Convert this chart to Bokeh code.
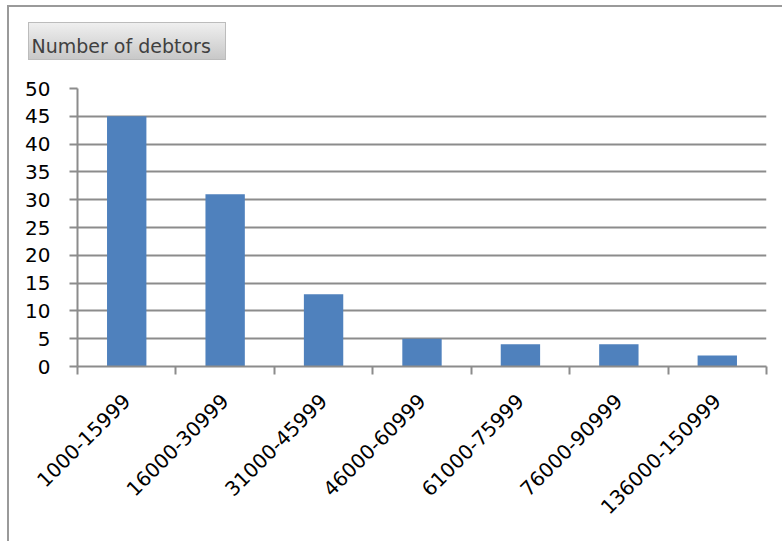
import math
from bokeh.plotting import figure
from bokeh.models import ColumnDataSource, FixedTicker, Range1d
from bokeh.embed import file_html
from bokeh.resources import INLINE

categories = ["1000-15999", "16000-30999", "31000-45999", "46000-60999",
              "61000-75999", "76000-90999", "136000-150999"]
debtors = [45, 31, 13, 5, 4, 4, 2]
y_ticks = [0, 5, 10, 15, 20, 25, 30, 35, 40, 45, 50]
title_text = "Number of debtors"

FONT = "DejaVu Sans"
GRID = "#8c8c8c"

x_pos = [i + 0.5 for i in range(len(categories))]
src = ColumnDataSource(dict(x=x_pos, top=debtors, cat=categories))

p = figure(width=782, height=541, output_backend="svg", toolbar_location=None,
           x_range=Range1d(0, len(categories)), y_range=Range1d(0, 50))
p.min_border_left = 77
p.min_border_right = 16
p.min_border_top = 88
p.min_border_bottom = 175
p.outline_line_color = None
p.background_fill_color = "white"
p.border_fill_color = None

# chart-area border (left/top) and title box drawn as page background behind the canvas
p.styles = {
    "background-color": "white",
    "background-image": ", ".join([
        "linear-gradient(#9a9a9a, #9a9a9a)",
        "linear-gradient(#9a9a9a, #9a9a9a)",
        "linear-gradient(#efefef, #c8c8c8)",
        "linear-gradient(#bcbcbc, #bcbcbc)",
    ]),
    "background-position": "7px 5px, 7px 5px, 29px 23px, 28px 22px",
    "background-size": "2px 100%, 100% 2px, 196px 36px, 198px 38px",
    "background-repeat": "no-repeat",
}

p.title.text = title_text
p.title.align = "left"
p.title.vertical_align = "bottom"
p.title.offset = -46
p.title.standoff = 64
p.title.text_font = FONT
p.title.text_font_size = "19px"
p.title.text_font_style = "normal"
p.title.text_color = "#404040"

p.vbar(x="x", top="top", width=0.4, source=src, color="#4f81bd", line_color=None)

# y axis
p.yaxis.ticker = FixedTicker(ticks=y_ticks, minor_ticks=[])
p.yaxis.axis_line_color = GRID
p.yaxis.axis_line_width = 2
p.yaxis.major_tick_line_color = GRID
p.yaxis.major_tick_line_width = 2
p.yaxis.major_tick_out = 8
p.yaxis.major_tick_in = 0
p.yaxis.major_label_text_font = FONT
p.yaxis.major_label_text_font_size = "20px"
p.yaxis.major_label_text_color = "black"
p.yaxis.major_label_standoff = 19

# x axis
p.xaxis.ticker = FixedTicker(ticks=x_pos, minor_ticks=list(range(len(categories) + 1)))
p.xaxis.major_label_overrides = {x: c for x, c in zip(x_pos, categories)}
p.xaxis.axis_line_color = GRID
p.xaxis.axis_line_width = 2
p.xaxis.major_tick_out = 0
p.xaxis.major_tick_in = 0
p.xaxis.minor_tick_line_color = GRID
p.xaxis.minor_tick_line_width = 2
p.xaxis.minor_tick_out = 8
p.xaxis.minor_tick_in = 0
p.xaxis.major_label_orientation = math.pi / 4
p.xaxis.major_label_text_font = FONT
p.xaxis.major_label_text_font_size = "20px"
p.xaxis.major_label_text_color = "black"
p.xaxis.major_label_standoff = 23

p.xgrid.grid_line_color = None
p.ygrid.grid_line_color = GRID
p.ygrid.grid_line_width = 2

open("out.html", "w").write(file_html(p, INLINE))
